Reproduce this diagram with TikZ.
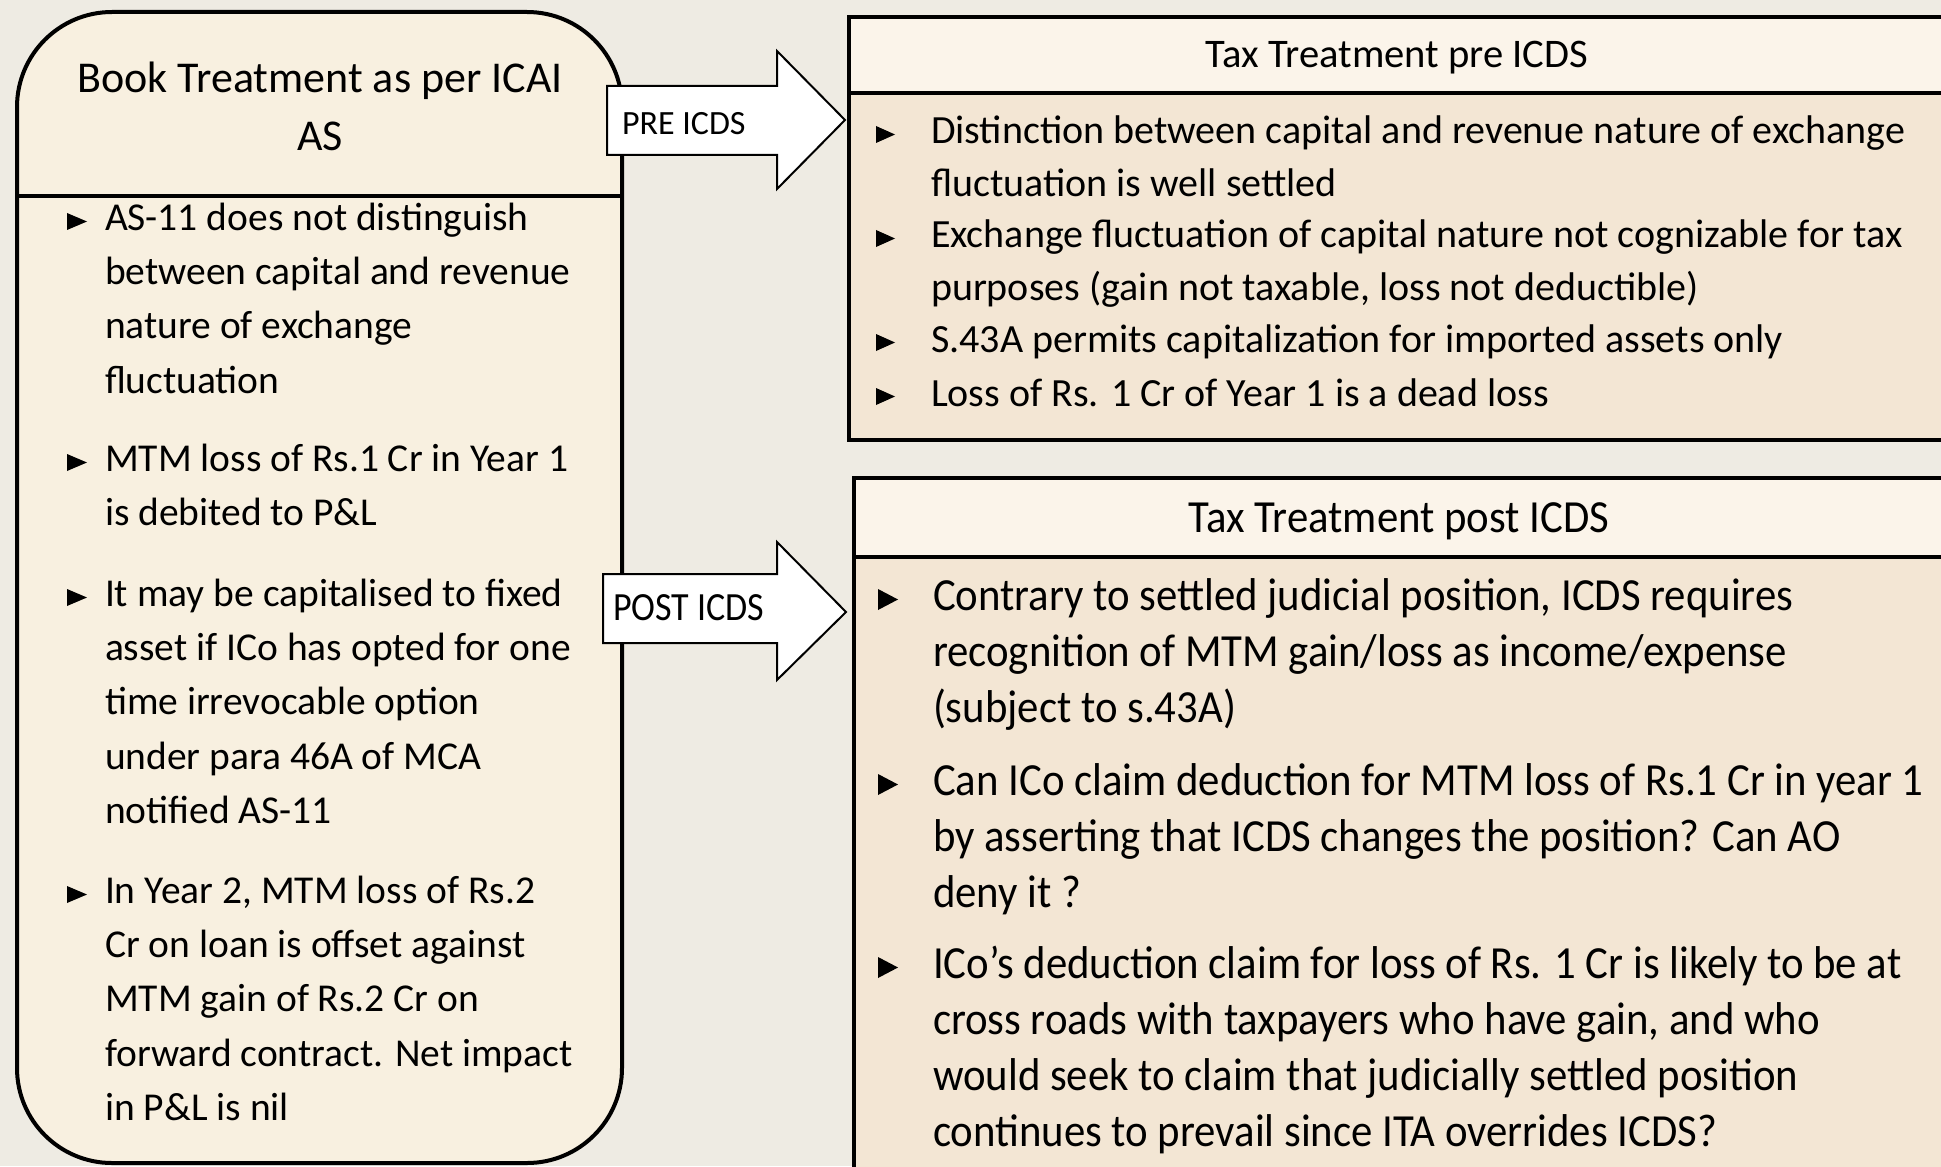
\documentclass[tikz,border=0pt]{standalone}
\usepackage{fontspec}
\setmainfont{Carlito}
\newfontfamily\postfont[FakeStretch=0.93]{Carlito}
\newfontfamily\labelfont[FakeStretch=0.9]{Carlito}
\definecolor{pagebg}{HTML}{EEEBE3}
\definecolor{bookfill}{HTML}{F8F0E0}
\definecolor{headfill}{HTML}{FBF4EA}
\definecolor{bodyfill}{HTML}{F3E6D4}
% stack of lines whose first baseline is the box baseline
\newcommand\rowstack[2]{\vtop{\baselineskip=#1\lineskiplimit=-\maxdimen\lineskip=0pt #2}}
% small black bullet triangle: left x, bottom y, width, height
\newcommand\bulletmark[4]{\fill (#1,#2) -- ++(0,-#4) -- ++(#3,#4/2) -- cycle;}
\begin{document}
\begin{tikzpicture}[x=0.5pt,y=-0.5pt,
  txt/.style={anchor=base west,inner sep=0pt,outer sep=0pt},
  ctr/.style={anchor=base,inner sep=0pt,outer sep=0pt},
  frame/.style={draw=black,line width=2pt},
  blockarrow/.style={draw=black,line width=1pt,fill=white,line join=miter}]
\useasboundingbox (0,0) rectangle (1941,1166);
\fill[pagebg] (0,0) rectangle (1941,1166);
\clip (0,0) rectangle (1941,1166);

% left panel: book treatment
\draw[frame,fill=bookfill,rounded corners=47.5pt] (17,12) rectangle (622,1163);
\draw[frame] (17,196) -- (622,196);
\node[ctr,font=\fontsize{22pt}{28pt}\selectfont] (bookhead) at (320,93) {Book Treatment as per ICAI};
\node[ctr,font=\fontsize{22pt}{28pt}\selectfont] (bookhead2) at (320,151) {AS};

\begin{scope}[font=\fontsize{19.75pt}{27.2pt}\selectfont]
\node[txt] (bk1) at (105,230) {\rowstack{27.2pt}{\hbox{AS-11 does not distinguish}\hbox{between capital and revenue}\hbox{nature of exchange}\hbox{fluctuation}}};
\node[txt] (bk2) at (105,471) {\rowstack{27.2pt}{\hbox{MTM loss of Rs.1 Cr in Year 1}\hbox{is debited to P\&L}}};
\node[txt] (bk3) at (105,606) {\rowstack{27.2pt}{\hbox{It may be capitalised to fixed}\hbox{asset if ICo has opted for one}\hbox{time irrevocable option}\hbox{under para 46A of MCA}\hbox{notified AS-11}}};
\node[txt] (bk4) at (105,903) {\rowstack{27.2pt}{\hbox{In Year 2, MTM loss of Rs.2}\hbox{Cr on loan is offset against}\hbox{MTM gain of Rs.2 Cr on}\hbox{forward contract. Net impact}\hbox{in P\&L is nil}}};
\end{scope}
\bulletmark{67}{230}{20}{17}
\bulletmark{67}{471}{20}{17}
\bulletmark{67}{606}{20}{17}
\bulletmark{67}{903}{20}{17}

% upper right panel: tax treatment before ICDS
\fill[bodyfill] (849,17) rectangle (1960,440);
\fill[headfill] (849,17) rectangle (1960,93);
\draw[frame] (1960,17) -- (849,17) -- (849,440) -- (1960,440);
\draw[frame] (849,93) -- (1960,93);
\node[ctr,font=\fontsize{20.3pt}{26.3pt}\selectfont] (prehead) at (1397,68) {Tax Treatment pre ICDS};
\begin{scope}[font=\fontsize{20pt}{26.3pt}\selectfont]
\node[txt] (pr1) at (931,144) {\rowstack{26.3pt}{\hbox{Distinction between capital and revenue nature of exchange}\hbox{fluctuation is well settled}}};
\node[txt] (pr2) at (931,248) {\rowstack{26.3pt}{\hbox{Exchange fluctuation of capital nature not cognizable for tax}\hbox{purposes (gain not taxable, loss not deductible)}}};
\node[txt] (pr3) at (931,352) {S.43A permits capitalization for imported assets only};
\node[txt] (pr4) at (931,406) {Loss of Rs. 1 Cr of Year 1 is a dead loss};
\end{scope}
\bulletmark{876}{143}{19}{17}
\bulletmark{876}{247}{19}{17}
\bulletmark{876}{351}{19}{17}
\bulletmark{876}{405}{19}{17}

% lower right panel: tax treatment after ICDS
\fill[bodyfill] (854,478) rectangle (1960,1200);
\fill[headfill] (854,478) rectangle (1960,557);
\draw[frame] (1960,478) -- (854,478) -- (854,1200);
\draw[frame] (854,557) -- (1960,557);
\node[ctr,font=\postfont\fontsize{23pt}{28.15pt}\selectfont] (posthead) at (1399,532) {Tax Treatment post ICDS};
\begin{scope}[font=\postfont\fontsize{23pt}{28.15pt}\selectfont]
\node[txt] (po1) at (933,610) {\rowstack{28.15pt}{\hbox{Contrary to settled judicial position, ICDS requires}\hbox{recognition of MTM gain/loss as income/expense}\hbox{(subject to s.43A)}}};
\node[txt] (po2) at (933,795) {\rowstack{28.15pt}{\hbox{Can ICo claim deduction for MTM loss of Rs.1 Cr in year 1}\hbox{by asserting that ICDS changes the position? Can AO}\hbox{deny it ?}}};
\node[txt] (po3) at (933,978) {\rowstack{28.15pt}{\hbox{ICo’s deduction claim for loss of Rs. 1 Cr is likely to be at}\hbox{cross roads with taxpayers who have gain, and who}\hbox{would seek to claim that judicially settled position}\hbox{continues to prevail since ITA overrides ICDS?}}};
\end{scope}
\bulletmark{878}{610}{20}{21}
\bulletmark{878}{795}{20}{21}
\bulletmark{878}{978}{20}{21}

% block arrows between the panels
\draw[blockarrow] (607,86) -- (777,86) -- (777,51) -- (845,120) -- (777,189) -- (777,155) -- (607,155) -- cycle;
\node[txt,font=\fontsize{17pt}{20pt}\selectfont] (prelabel) at (622,135) {PRE ICDS};
\draw[blockarrow] (603,574) -- (777,574) -- (777,542) -- (846,612) -- (777,680) -- (777,643) -- (603,643) -- cycle;
\node[txt,font=\labelfont\fontsize{20pt}{24pt}\selectfont] (postlabel) at (613,620) {POST ICDS};
\end{tikzpicture}
\end{document}
